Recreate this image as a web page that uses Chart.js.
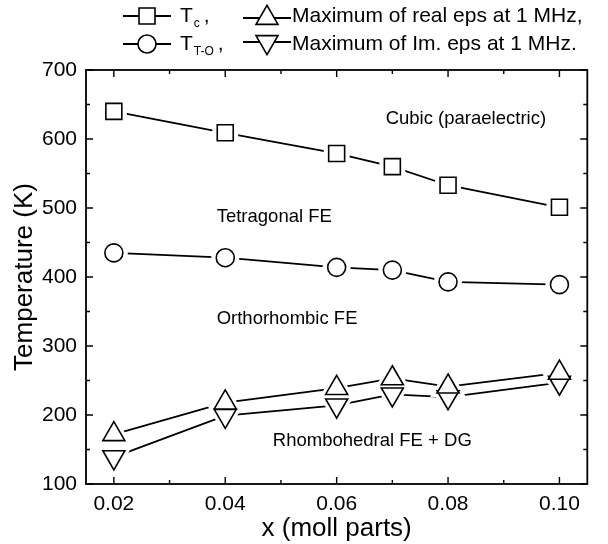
<!DOCTYPE html>
<html>
<head>
<meta charset="utf-8">
<title>Phase diagram</title>
<script src="https://cdn.jsdelivr.net/npm/chart.js@4.4.0/dist/chart.umd.min.js"></script>
<style>
  html, body { margin: 0; padding: 0; background: #fff; }
</style>
</head>
<body>
<canvas id="phaseChart" width="608" height="544"></canvas>
<script>
// composition x and transition temperatures (K)
const xValues = [0.02, 0.04, 0.06, 0.07, 0.08, 0.10];
const tCubic = [640, 609, 579, 560, 533, 501];
const tTetraOrtho = [435, 428, 414, 410, 393, 389];
const epsRealMax = [172, 218, 239, 253, 241, 261];
const epsImMax = [139, 199, 214, 230, 226, 247];

const xTicks = [0.02, 0.04, 0.06, 0.08, 0.10];
const yTicks = [100, 200, 300, 400, 500, 600, 700];

const phaseNames = ['Cubic (paraelectric)', 'Tetragonal FE', 'Orthorhombic FE', 'Rhombohedral FE + DG'];

const FONT = "'Liberation Sans', Arial, sans-serif";
const LINE_W = 1.8;

// where the phase names sit, in data units
const phaseSpots = [
    { x: 0.0832, y: 629 },
    { x: 0.0488, y: 487 },
    { x: 0.0511, y: 339 },
    { x: 0.0664, y: 163 }
];

function buildSeries(values, style, rotation, radius, gap){
    let pts = values.map((v, i) => ({ x: xValues[i], y: v }));
    return [
        { data: pts, order: 3, showLine: true, borderColor: '#000', borderWidth: LINE_W,
          pointRadius: 0, pointHoverRadius: 0, fill: false, tension: 0 },
        // white patch under the marker so the line stops short of it
        { data: pts, order: 2, showLine: false, pointStyle: style, pointRotation: rotation,
          pointRadius: radius + gap, pointHoverRadius: radius + gap,
          pointBackgroundColor: '#fff', pointBorderColor: '#fff', pointBorderWidth: 0 },
        { data: pts, order: 1, showLine: false, pointStyle: style, pointRotation: rotation,
          pointRadius: radius, pointHoverRadius: radius,
          pointBackgroundColor: '#fff', pointBorderColor: '#000', pointBorderWidth: 1.6 }
    ];
}

const datasets = [].concat(
    buildSeries(tCubic, 'rect', 0, 11.3, 7),
    buildSeries(tTetraOrtho, 'circle', 0, 9, 5),
    buildSeries(epsRealMax, 'triangle', 0, 12.7, 8),
    buildSeries(epsImMax, 'triangle', 180, 12.7, 8)
);

function midpoints(arr){
    let out = [];
    for(let i = 0; i < arr.length - 1; i++) out.push((arr[i] + arr[i + 1]) / 2);
    return out;
}

// frame with inward ticks on all four sides, plus the phase names
const framePlugin = {
    id: 'frame',
    afterDatasetsDraw(chart){
        const { ctx, chartArea: a, scales: { x, y } } = chart;
        ctx.save();
        ctx.strokeStyle = '#000';
        ctx.lineWidth = 1.4;
        ctx.beginPath();
        const tick = (px, len, vertical) => {
            if(vertical){
                ctx.moveTo(px, a.bottom); ctx.lineTo(px, a.bottom - len);
                ctx.moveTo(px, a.top); ctx.lineTo(px, a.top + len);
            } else {
                ctx.moveTo(a.left, px); ctx.lineTo(a.left + len, px);
                ctx.moveTo(a.right, px); ctx.lineTo(a.right - len, px);
            }
        };
        xTicks.forEach(v => tick(x.getPixelForValue(v), 7, true));
        midpoints(xTicks).forEach(v => tick(x.getPixelForValue(v), 4, true));
        yTicks.forEach(v => tick(y.getPixelForValue(v), 7, false));
        midpoints(yTicks).forEach(v => tick(y.getPixelForValue(v), 4, false));
        ctx.stroke();

        ctx.lineWidth = LINE_W;
        ctx.strokeRect(a.left, a.top, a.right - a.left, a.bottom - a.top);

        ctx.fillStyle = '#000';
        ctx.font = '18.5px ' + FONT;
        ctx.textAlign = 'center';
        ctx.textBaseline = 'middle';
        phaseNames.forEach((name, i) => {
            ctx.fillText(name, x.getPixelForValue(phaseSpots[i].x), y.getPixelForValue(phaseSpots[i].y));
        });
        ctx.restore();
    }
};

function drawSymbol(ctx, style, rotation, radius, cx, cy){
    ctx.beginPath();
    ctx.moveTo(cx - 24, cy);
    ctx.lineTo(cx + 24, cy);
    ctx.lineWidth = LINE_W;
    ctx.stroke();
    ctx.lineWidth = 1.6;
    ctx.fillStyle = '#fff';
    Chart.helpers.drawPoint(ctx, { pointStyle: style, rotation: rotation, radius: radius, borderWidth: 1.6 }, cx, cy);
    ctx.fillStyle = '#000';
}

// two-row legend above the plot, with subscripts on T
const legendPlugin = {
    id: 'phaseLegend',
    afterDraw(chart){
        const ctx = chart.ctx;
        ctx.save();
        ctx.strokeStyle = '#000';
        const rows = [16, 44];
        drawSymbol(ctx, 'rect', 0, 11.3, 147, rows[0]);
        drawSymbol(ctx, 'circle', 0, 9, 147, rows[1]);
        drawSymbol(ctx, 'triangle', 0, 12.7, 267, rows[0] + 2);
        drawSymbol(ctx, 'triangle', 180, 12.7, 267, rows[1] - 2);

        ctx.fillStyle = '#000';
        ctx.textAlign = 'left';
        ctx.textBaseline = 'middle';
        const withSub = (sub, yy) => {
            let px = 180;
            ctx.font = '21px ' + FONT;
            ctx.fillText('T', px, yy);
            px += ctx.measureText('T').width + 1;
            ctx.font = '12px ' + FONT;
            ctx.fillText(sub, px, yy + 8);
            px += ctx.measureText(sub).width + 4;
            ctx.font = '21px ' + FONT;
            ctx.fillText(',', px, yy);
        };
        withSub('c', rows[0]);
        withSub('T-O', rows[1]);
        ctx.font = '21px ' + FONT;
        ctx.fillText('Maximum of real eps at 1 MHz,', 292, rows[0]);
        ctx.fillText('Maximum of Im. eps at 1 MHz.', 292, rows[1]);
        ctx.restore();
    }
};

Chart.defaults.font.family = FONT;
Chart.defaults.color = '#000';

new Chart(document.getElementById('phaseChart'), {
    type: 'scatter',
    data: { datasets: datasets },
    options: {
        responsive: false,
        animation: false,
        events: [],
        layout: { padding: { top: 70, right: 4, left: 0, bottom: 0 } },
        plugins: {
            legend: { display: false },
            tooltip: { enabled: false }
        },
        scales: {
            x: {
                type: 'linear',
                min: 0.015,
                max: 0.105,
                afterBuildTicks: (s) => { s.ticks = xTicks.map(v => ({ value: v })); },
                afterFit: (s) => { s.height = 60; },
                grid: { display: false, drawTicks: false },
                border: { display: false },
                ticks: {
                    padding: 8,
                    font: { size: 21 },
                    maxRotation: 0,
                    callback: (v) => v.toFixed(2)
                },
                title: {
                    display: true,
                    text: 'x (moll parts)',
                    font: { size: 26 },
                    padding: { top: 0, bottom: 0 }
                }
            },
            y: {
                type: 'linear',
                min: 100,
                max: 700,
                afterBuildTicks: (s) => { s.ticks = yTicks.map(v => ({ value: v })); },
                afterFit: (s) => { s.width = 86; },
                grid: { display: false, drawTicks: false },
                border: { display: false },
                ticks: {
                    padding: 9,
                    font: { size: 21 },
                    callback: (v) => String(v)
                },
                title: {
                    display: true,
                    text: 'Temperature (K)',
                    font: { size: 26 },
                    padding: { top: 9, bottom: 0 }
                }
            }
        }
    },
    plugins: [framePlugin, legendPlugin]
});
</script>
</body>
</html>
